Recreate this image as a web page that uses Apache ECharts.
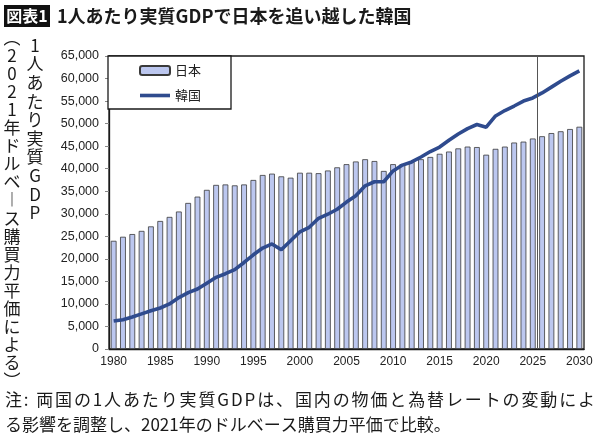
<!DOCTYPE html>
<html lang="ja">
<head>
<meta charset="UTF-8">
<title>1人あたり実質GDP</title>
<script src="https://cdn.jsdelivr.net/npm/echarts@6/dist/echarts.min.js"></script>
<style>
  html, body { margin: 0; padding: 0; background: #fff; }
  #main { width: 600px; height: 437px; }
</style>
</head>
<body>
<div id="main"></div>
<script>
  // 年（カテゴリ）
  const years = [
    '1980','1981','1982','1983','1984','1985','1986','1987','1988','1989',
    '1990','1991','1992','1993','1994','1995','1996','1997','1998','1999',
    '2000','2001','2002','2003','2004','2005','2006','2007','2008','2009',
    '2010','2011','2012','2013','2014','2015','2016','2017','2018','2019',
    '2020','2021','2022','2023','2024','2025','2026','2027','2028','2029',
    '2030'
  ]
  // 日本（棒）
  const japanGdp = [
    24000, 24900, 25500, 26200, 27200, 28400, 29300, 30500, 32400, 33800,
    35300, 36400, 36500, 36300, 36500, 37500, 38600, 38900, 38300, 38000,
    39100, 39100, 39000, 39600, 40300, 41000, 41600, 42100, 41700, 39500,
    41000, 41000, 41500, 42100, 42600, 43300, 43800, 44500, 44900, 44800,
    43100, 44400, 44900, 45800, 46000, 46700, 47200, 47900, 48300, 48800,
    49300
  ]
  // 韓国（線）
  const koreaGdp = [
    6200, 6500, 7100, 7800, 8500, 9100, 10000, 11400, 12500, 13300,
    14600, 15900, 16700, 17600, 19200, 20900, 22400, 23300, 22000, 24000,
    26000, 27000, 29000, 29900, 31000, 32600, 34000, 36200, 37100, 37100,
    39500, 40800, 41500, 42600, 43800, 44800, 46300, 47700, 48900, 49800,
    49200, 51700, 52900, 53900, 55000, 55700, 56800, 58100, 59400, 60600,
    61700
  ]
  // 実績と予測の境目（2025年と2026年の間）
  const forecastSplit = 2025.5

  const titleText = '1人あたり実質GDPで日本を追い越した韓国'
  const yNameRight = '1人あたり実質GDP'
  const yNameLeft = '︵2021年ドルベ︱ス購買力平価による︶'
  const note1 = '注: 両国の1人あたり実質GDPは、国内の物価と為替レートの変動によ'
  const note2 = 'る影響を調整し、2021年のドルベース購買力平価で比較。'

  const jp = '"Noto Sans CJK JP", "Noto Sans", sans-serif'
  const latin = '"Liberation Sans", Arial, sans-serif'
  const koreaColor = '#2f4b8e'

  // 1行目は両端揃え
  function justifyLine(str, x0, x1, y, font) {
    const ctx = document.createElement('canvas').getContext('2d')
    ctx.font = font
    const chars = Array.from(str)
    const widths = chars.map(c => ctx.measureText(c).width)
    const total = widths.reduce((a, b) => a + b, 0)
    const gap = (x1 - x0 - total) / (chars.length - 1)
    let x = x0
    return chars.map((c, i) => {
      const el = {
        type: 'text', x: x, y: y,
        style: { text: c, font: font, fill: '#1a1a1a', verticalAlign: 'middle' }
      }
      x += widths[i] + gap
      return el
    })
  }

  const myChart = echarts.init(document.getElementById('main'))

  const option = {
    animation: false,
    grid: {
      left: 109, right: 16, top: 56, bottom: 88,
      show: true, borderColor: '#1a1a1a', borderWidth: 1.3
    },
    legend: {
      orient: 'vertical',
      left: 108, top: 56,
      padding: [8, 30, 7, 31],
      itemGap: 12,
      itemWidth: 30, itemHeight: 9,
      borderColor: '#1a1a1a', borderWidth: 1.3,
      backgroundColor: '#fff',
      textStyle: { fontFamily: jp, fontSize: 13, color: '#222' },
      data: [
        { name: '日本' },
        { name: '韓国', icon: 'path://M0,0L30,0L30,3.6L0,3.6Z', itemStyle: { color: koreaColor } }
      ]
    },
    xAxis: [
      {
        type: 'category',
        data: years,
        axisLine: { lineStyle: { color: '#1a1a1a', width: 1.3 } },
        axisTick: { interval: 0, length: 3, lineStyle: { color: '#999' } },
        axisLabel: { interval: 4, margin: 7, fontSize: 12, color: '#222', fontFamily: latin }
      },
      { type: 'value', min: 1979.5, max: 2030.5, show: false }
    ],
    yAxis: {
      type: 'value',
      min: 0, max: 65000, interval: 5000,
      splitLine: { show: false },
      axisLine: { show: true, lineStyle: { color: '#1a1a1a', width: 1.3 } },
      axisTick: { show: true, length: 4, lineStyle: { color: '#888' } },
      axisLabel: {
        margin: 10, fontSize: 12.5, color: '#222', fontFamily: latin,
        formatter: v => v.toLocaleString('en-US')
      }
    },
    series: [
      {
        name: '日本',
        type: 'bar',
        data: japanGdp,
        barWidth: '62%',
        itemStyle: { color: '#bcc7ef', borderColor: '#3a3a3a', borderWidth: 0.8 }
      },
      {
        name: '韓国',
        type: 'line',
        data: koreaGdp,
        symbol: 'none',
        z: 3,
        lineStyle: { color: koreaColor, width: 3.6 },
        itemStyle: { color: koreaColor }
      },
      {
        type: 'line',
        xAxisIndex: 1,
        data: [],
        markLine: {
          silent: true,
          symbol: 'none',
          label: { show: false },
          lineStyle: { color: '#555', width: 1, type: 'solid' },
          data: [{ xAxis: forecastSplit }]
        }
      }
    ],
    graphic: [
      { type: 'rect', shape: { x: 4, y: 5, width: 46, height: 22 }, style: { fill: '#111' } },
      {
        type: 'text', x: 27, y: 16,
        style: { text: '図表1', font: 'bold 16px ' + jp, fill: '#fff', align: 'center', verticalAlign: 'middle' }
      },
      {
        type: 'text', x: 57, y: 16,
        style: { text: titleText, font: 'bold 18px ' + jp, fill: '#1a1a1a', verticalAlign: 'middle' }
      },
      // 縦書きの軸名
      {
        type: 'text', x: 35, y: 36,
        style: {
          text: Array.from(yNameRight).join('\n'),
          font: '17px ' + jp, lineHeight: 18.6, fill: '#1a1a1a',
          align: 'center', verticalAlign: 'top'
        }
      },
      {
        type: 'text', x: 12, y: 28,
        style: {
          text: Array.from(yNameLeft).join('\n'),
          font: '17px ' + jp, lineHeight: 18.1, fill: '#1a1a1a',
          align: 'center', verticalAlign: 'top'
        }
      },
      ...justifyLine(note1, 5, 595, 400, '17px ' + jp),
      {
        type: 'text', x: 5, y: 425,
        style: { text: note2, font: '17px ' + jp, fill: '#1a1a1a', verticalAlign: 'middle' }
      }
    ]
  }

  myChart.setOption(option)
</script>
</body>
</html>
